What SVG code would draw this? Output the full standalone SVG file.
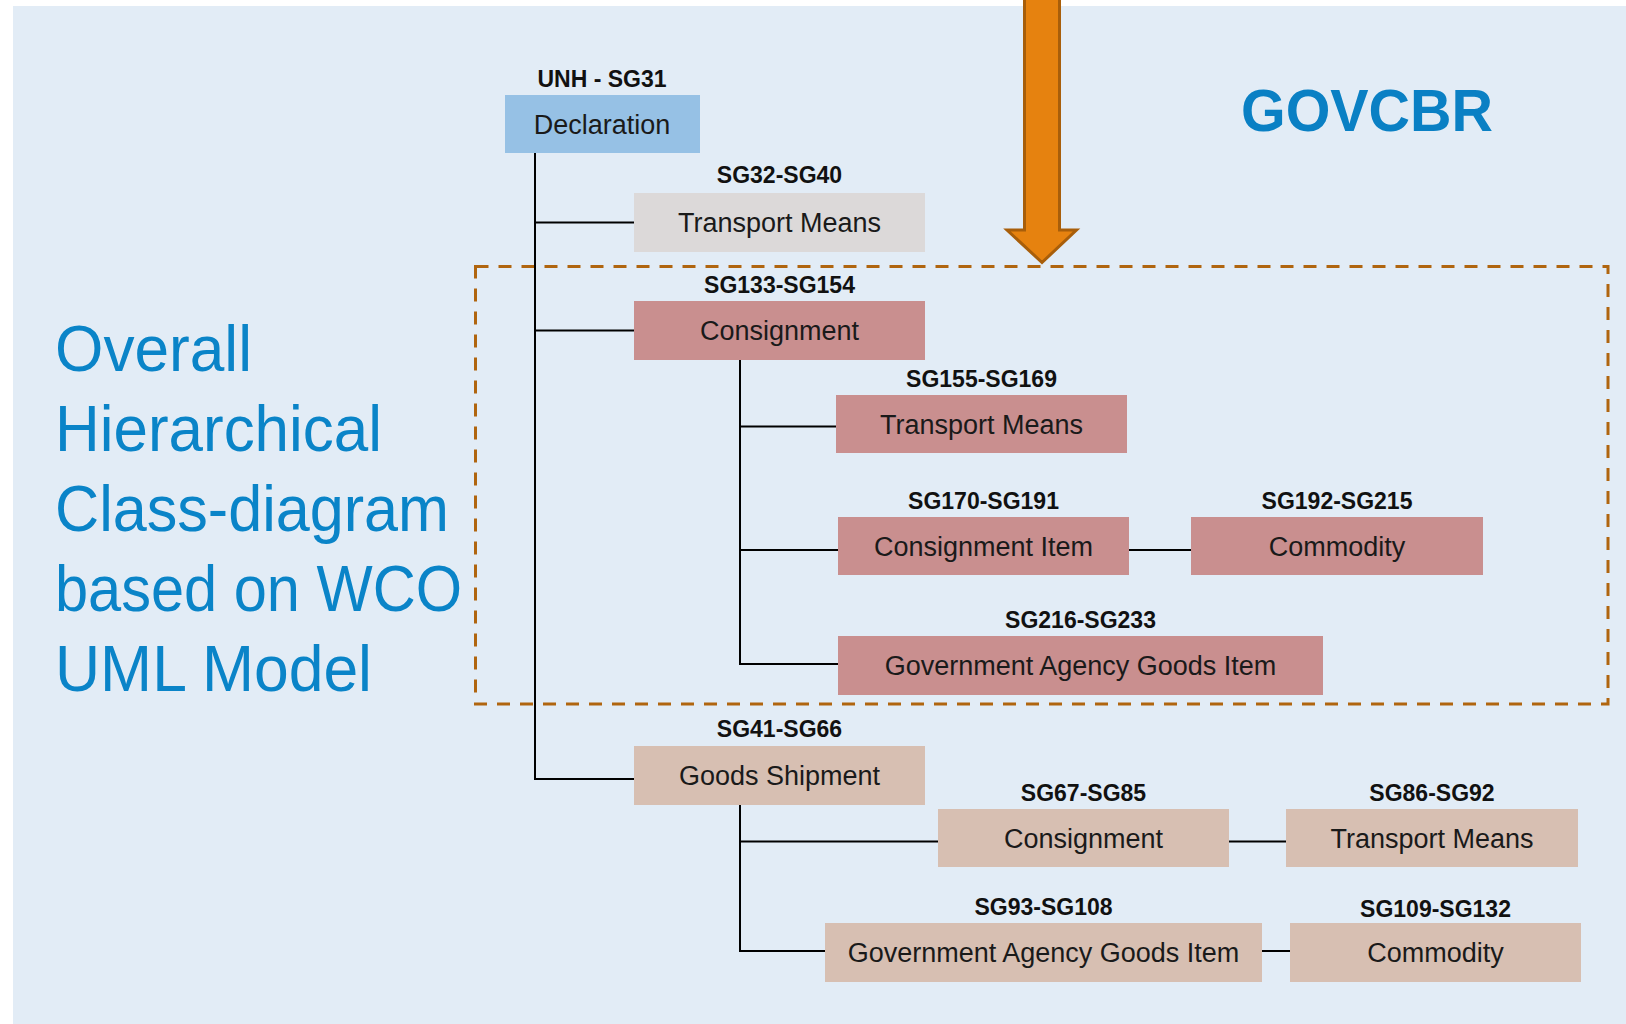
<svg xmlns="http://www.w3.org/2000/svg" width="1626" height="1024" viewBox="0 0 1626 1024">
<style>
.lbl{font-family:"Liberation Sans",Arial,sans-serif;font-weight:bold;font-size:23px;fill:#111;text-anchor:middle}
.txt{font-family:"Liberation Sans",Arial,sans-serif;font-size:27px;fill:#1a1a1a;text-anchor:middle}
.title{font-family:"Liberation Sans",Arial,sans-serif;font-size:64px;fill:#0a84c8}
.blue{fill:#96c1e5}
.grey{fill:#dcd9d9}
.pink{fill:#c98f8f}
.tan{fill:#d7bfb2}
.conn line{stroke:#000;stroke-width:2;fill:none}
</style>
<rect x="0" y="0" width="1626" height="1024" fill="#ffffff"/>
<rect x="13" y="6" width="1613" height="1018" fill="#e2ecf6"/>

<g id="title-left">
<text class="title" x="55" y="371" textLength="197" lengthAdjust="spacingAndGlyphs">Overall</text>
<text class="title" x="55" y="451" textLength="327" lengthAdjust="spacingAndGlyphs">Hierarchical</text>
<text class="title" x="55" y="531" textLength="394" lengthAdjust="spacingAndGlyphs">Class-diagram</text>
<text class="title" x="55" y="611" textLength="407" lengthAdjust="spacingAndGlyphs">based on WCO</text>
<text class="title" x="55" y="691" textLength="317" lengthAdjust="spacingAndGlyphs">UML Model</text>
</g>
<g id="title-govcbr">
<text x="1241" y="131" font-family="'Liberation Sans',Arial,sans-serif" font-weight="bold" font-size="60" fill="#0a80c4" textLength="252" lengthAdjust="spacingAndGlyphs">GOVCBR</text>
</g>

<g id="dashed-region">
<rect x="475.5" y="266.5" width="1132.5" height="437.5" fill="none" stroke="#b0650f" stroke-width="3" stroke-dasharray="13 10"/>
</g>

<g id="orange-arrow">
<path d="M1024.5,-2 L1059.5,-2 L1059.5,230 L1076.5,230 L1042,262.5 L1007,230 L1024.5,230 Z" fill="#e6820f" stroke="#a85e0a" stroke-width="3" stroke-linejoin="miter"/>
</g>

<g class="conn" id="connectors">
<line x1="535" y1="153" x2="535" y2="779"/>
<line x1="535" y1="222.5" x2="634" y2="222.5"/>
<line x1="535" y1="330.5" x2="634" y2="330.5"/>
<line x1="534" y1="779" x2="634" y2="779"/>
<line x1="740" y1="360" x2="740" y2="665"/>
<line x1="740" y1="426.5" x2="836" y2="426.5"/>
<line x1="740" y1="550" x2="838" y2="550"/>
<line x1="739" y1="664" x2="838" y2="664"/>
<line x1="1129" y1="550" x2="1191" y2="550"/>
<line x1="740" y1="805" x2="740" y2="952"/>
<line x1="740" y1="841.5" x2="938" y2="841.5"/>
<line x1="739" y1="951" x2="825" y2="951"/>
<line x1="1229" y1="841.5" x2="1286" y2="841.5"/>
<line x1="1262" y1="951" x2="1290" y2="951"/>
</g>

<g id="declaration">
<rect class="blue" x="505" y="95" width="195" height="58"/>
<text class="lbl" x="602" y="87">UNH - SG31</text>
<text class="txt" x="602" y="134">Declaration</text>
</g>
<g id="transport-means-1">
<rect class="grey" x="634" y="193" width="291" height="59"/>
<text class="lbl" x="779.5" y="183">SG32-SG40</text>
<text class="txt" x="779.5" y="232">Transport Means</text>
</g>
<g id="consignment-1">
<rect class="pink" x="634" y="301" width="291" height="59"/>
<text class="lbl" x="779.5" y="293">SG133-SG154</text>
<text class="txt" x="779.5" y="340">Consignment</text>
</g>
<g id="transport-means-2">
<rect class="pink" x="836" y="395" width="291" height="58"/>
<text class="lbl" x="981.5" y="387">SG155-SG169</text>
<text class="txt" x="981.5" y="434">Transport Means</text>
</g>
<g id="consignment-item">
<rect class="pink" x="838" y="517" width="291" height="58"/>
<text class="lbl" x="983.5" y="509">SG170-SG191</text>
<text class="txt" x="983.5" y="556">Consignment Item</text>
</g>
<g id="commodity-1">
<rect class="pink" x="1191" y="517" width="292" height="58"/>
<text class="lbl" x="1337" y="509">SG192-SG215</text>
<text class="txt" x="1337" y="556">Commodity</text>
</g>
<g id="gov-agency-1">
<rect class="pink" x="838" y="636" width="485" height="59"/>
<text class="lbl" x="1080.5" y="628">SG216-SG233</text>
<text class="txt" x="1080.5" y="675">Government Agency Goods Item</text>
</g>
<g id="goods-shipment">
<rect class="tan" x="634" y="746" width="291" height="59"/>
<text class="lbl" x="779.5" y="737">SG41-SG66</text>
<text class="txt" x="779.5" y="785">Goods Shipment</text>
</g>
<g id="consignment-2">
<rect class="tan" x="938" y="809" width="291" height="58"/>
<text class="lbl" x="1083.5" y="801">SG67-SG85</text>
<text class="txt" x="1083.5" y="848">Consignment</text>
</g>
<g id="transport-means-3">
<rect class="tan" x="1286" y="809" width="292" height="58"/>
<text class="lbl" x="1432" y="801">SG86-SG92</text>
<text class="txt" x="1432" y="848">Transport Means</text>
</g>
<g id="gov-agency-2">
<rect class="tan" x="825" y="923" width="437" height="59"/>
<text class="lbl" x="1043.5" y="915">SG93-SG108</text>
<text class="txt" x="1043.5" y="962">Government Agency Goods Item</text>
</g>
<g id="commodity-2">
<rect class="tan" x="1290" y="923" width="291" height="59"/>
<text class="lbl" x="1435.5" y="917">SG109-SG132</text>
<text class="txt" x="1435.5" y="962">Commodity</text>
</g>
</svg>
